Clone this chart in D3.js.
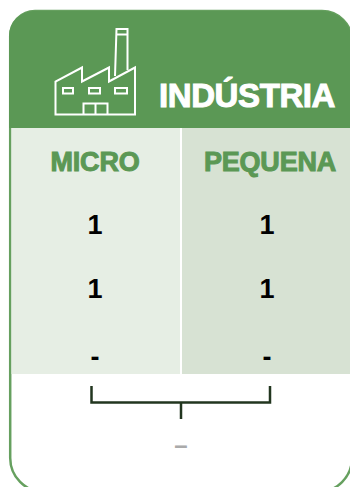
<!DOCTYPE html>
<html>
<head>
<meta charset="utf-8">
<script src="https://cdn.jsdelivr.net/npm/d3@7"></script>
<style>
  html, body { margin: 0; padding: 0; background: #fff; overflow: hidden; }
  text { font-family: "Liberation Sans", Arimo, sans-serif; font-weight: bold; }
</style>
</head>
<body>
<div id="canvas"></div>
<script>
/* Data */
const TITLE = "INDÚSTRIA"
const COLUMNS = ["MICRO", "PEQUENA"]
const ROWS = ["r1", "r2", "r3"]
const MICRO = ["1", "1", "-"]
const PEQUENA = ["1", "1", "-"]
const TOTAL = "–"

/* Constants */
const WIDTH = 350
const HEIGHT = 487
const GREEN = "#5b9855"
const BORDER = "#66a05f"
const DARK = "#22361f"
const FILLS = {"MICRO": "#e6eee4", "PEQUENA": "#d7e2d3"}

const canvas = d3.select("#canvas")
                 .append("svg")
                 .attr("width", WIDTH)
                 .attr("height", HEIGHT)
                 .style("display", "block");

const xScale = d3.scaleOrdinal().domain(COLUMNS).range([11.5, 182]);
const widthScale = d3.scaleOrdinal().domain(COLUMNS).range([168.5, 170]);
const headScale = d3.scaleOrdinal().domain(COLUMNS).range([95, 270]);
const valueScale = d3.scaleOrdinal().domain(COLUMNS).range([95, 267]);
const yScale = d3.scaleOrdinal().domain(ROWS).range([234, 298, 366]);

/* Card outline and header */
canvas.append("path")
      .attr("d", "M10.2 36A25 25 0 0 1 35 11H322A30 30 0 0 1 352 41V458A34 34 0 0 1 318 492H44A34 34 0 0 1 10.2 458Z")
      .attr("fill", "#fff")
      .attr("stroke", BORDER)
      .attr("stroke-width", 2.5);
canvas.append("path")
      .attr("d", "M9 128V36A25 25 0 0 1 34 11H322A30 30 0 0 1 352 41V128Z")
      .attr("fill", GREEN);

/* Column backgrounds */
canvas.selectAll("rect.col")
      .data(COLUMNS)
      .enter()
      .append("rect")
      .attr("class", "col")
      .attr("x", (d) => xScale(d))
      .attr("y", 128)
      .attr("width", (d) => widthScale(d))
      .attr("height", 246)
      .attr("fill", (d) => FILLS[d]);

/* Factory icon */
const icon = canvas.append("g")
                   .attr("fill", "none")
                   .attr("stroke", "#fff")
                   .attr("stroke-width", 2);
icon.append("path").attr("d", "M55.5 114.5V81.5L82 67.5V81.5L109 67.5V81.5L135 67.5V114.5Z");
icon.append("path").attr("d", "M115 76L116.5 29H127.5V70M116.5 34.5H127.5");
[[63, 73], [89, 100], [115, 127]].forEach((w) => {
  icon.append("rect").attr("x", w[0]).attr("y", 88).attr("width", w[1] - w[0]).attr("height", 5.5);
});
icon.append("path").attr("d", "M83.5 114V103.5H107.5V114M95.5 103.5V114");

/* Title and column headers */
canvas.append("text")
      .attr("x", 247).attr("y", 107)
      .attr("text-anchor", "middle")
      .attr("font-size", 33)
      .attr("letter-spacing", -0.4)
      .attr("fill", "#fff")
      .attr("stroke", "#fff")
      .attr("stroke-width", 1)
      .text(TITLE);
canvas.selectAll("text.head")
      .data(COLUMNS)
      .enter()
      .append("text")
      .attr("class", "head")
      .attr("x", (d) => headScale(d))
      .attr("y", 171)
      .attr("text-anchor", "middle")
      .attr("font-size", 27)
      .attr("letter-spacing", -0.2)
      .attr("fill", GREEN)
      .attr("stroke", GREEN)
      .attr("stroke-width", 1)
      .text((d) => d);

/* Values */
const addValues = (values, column) => {
  canvas.selectAll(null)
        .data(values)
        .enter()
        .append("text")
        .attr("x", valueScale(column))
        .attr("y", (d, i) => yScale(ROWS[i]))
        .attr("text-anchor", "middle")
        .attr("font-size", 27)
        .attr("fill", "#000")
        .text((d) => d);
}
addValues(MICRO, "MICRO");
addValues(PEQUENA, "PEQUENA");

/* Bracket */
canvas.append("path")
      .attr("d", "M91.5 386V402.5H270V386M181 402.5V419")
      .attr("fill", "none")
      .attr("stroke", DARK)
      .attr("stroke-width", 2.5);

/* Total */
canvas.append("text")
      .attr("x", 181).attr("y", 452.5)
      .attr("text-anchor", "middle")
      .attr("font-size", 24)
      .attr("fill", "#aaa")
      .text(TOTAL);
</script>
</body>
</html>
